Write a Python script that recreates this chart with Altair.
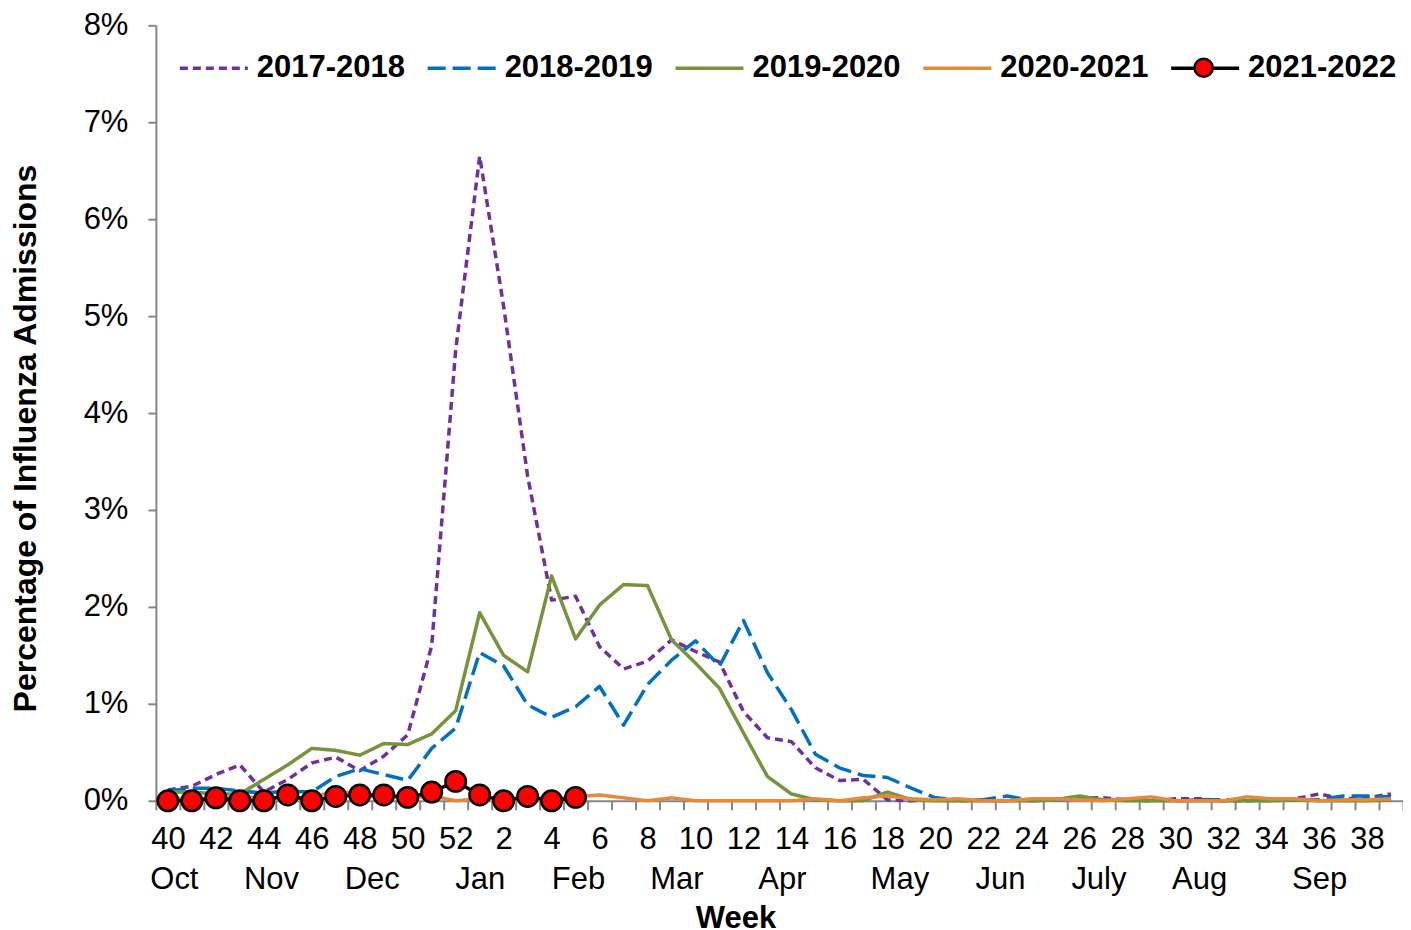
import json
import altair as alt
import pandas as pd

# ---------------- data ----------------
weeks = list(range(40, 53)) + list(range(1, 40))
series_names = ["2017-2018", "2018-2019", "2019-2020", "2020-2021", "2021-2022"]

s2017_2018 = [0.11, 0.15, 0.27, 0.37, 0.09, 0.22, 0.39, 0.45, 0.31, 0.46, 0.68, 1.60, 4.65,
              6.65, 5.10, 3.35, 2.07, 2.11, 1.59, 1.36, 1.44, 1.66, 1.54, 1.43, 0.92, 0.65,
              0.61, 0.34, 0.21, 0.22, 0.01, 0.00, 0.01, 0.00, 0.01, 0.00, 0.01, 0.02, 0.03,
              0.03, 0.01, 0.00, 0.02, 0.02, 0.00, 0.00, 0.01, 0.02, 0.07, 0.02, 0.03, 0.07]
s2018_2019 = [0.10, 0.13, 0.13, 0.10, 0.08, 0.10, 0.09, 0.25, 0.33, 0.27, 0.21, 0.54, 0.75,
              1.53, 1.39, 0.99, 0.86, 0.97, 1.18, 0.78, 1.20, 1.45, 1.65, 1.39, 1.86, 1.32,
              0.94, 0.48, 0.34, 0.26, 0.24, 0.13, 0.03, 0.01, 0.01, 0.05, 0.00, 0.01, 0.02,
              0.01, 0.01, 0.01, 0.00, 0.01, 0.01, 0.01, 0.00, 0.01, 0.01, 0.05, 0.05, 0.04]
s2019_2020 = [0.09, 0.09, 0.07, 0.07, 0.22, 0.37, 0.54, 0.52, 0.47, 0.59, 0.58, 0.69, 0.93,
              1.94, 1.50, 1.33, 2.32, 1.67, 2.02, 2.23, 2.22, 1.66, 1.42, 1.16, 0.70, 0.25,
              0.07, 0.01, 0.00, 0.00, 0.09, 0.01, 0.00, 0.00, 0.00, 0.00, 0.00, 0.01, 0.05,
              0.01, 0.00, 0.00, 0.00, 0.00, 0.00, 0.00, 0.00, 0.01, 0.00, 0.00, 0.00, 0.01]
s2020_2021 = [0.02, 0.02, 0.02, 0.04, 0.03, 0.03, 0.02, 0.12, 0.05, 0.04, 0.03, 0.05, 0.00,
              0.02, 0.00, 0.01, 0.02, 0.04, 0.06, 0.03, 0.00, 0.03, 0.00, 0.00, 0.00, 0.00,
              0.00, 0.02, 0.00, 0.03, 0.05, 0.02, 0.01, 0.02, 0.00, 0.00, 0.02, 0.02, 0.01,
              0.00, 0.02, 0.04, 0.00, 0.00, 0.00, 0.04, 0.02, 0.02, 0.00, 0.01, 0.01, 0.02]
s2021_2022 = [0.00, 0.00, 0.03, 0.00, 0.00, 0.06, 0.00, 0.045, 0.06, 0.06, 0.035, 0.09, 0.20,
              0.06, 0.00, 0.045, 0.00, 0.035]

months = ["Oct", "Nov", "Dec", "Jan", "Feb", "Mar", "Apr", "May", "Jun", "July", "Aug", "Sep"]
month_pos = [0.25, 4.3, 8.5, 13.0, 17.1, 21.2, 25.6, 30.5, 34.7, 38.8, 43.0, 48.0]

y_ticks = [0, 1, 2, 3, 4, 5, 6, 7, 8]

# ---------------- styles ----------------
colors = ["#7030A0", "#0070C0", "#77933C", "#E8883A", "#000000"]
dashes = [[8, 5], [18, 7], [1, 0], [1, 0], [1, 0]]
widths = [3.5, 3.5, 4, 4, 4.5]
FONT = "Liberation Sans"
GRAY = "#868686"
W, H = 1248, 776

rows = []
for name, vals in zip(series_names, [s2017_2018, s2018_2019, s2019_2020, s2020_2021, s2021_2022]):
    for i, v in enumerate(vals):
        rows.append({"series": name, "idx": i, "week": weeks[i], "pct": v})
df = pd.DataFrame(rows)
red_df = df[df["series"] == "2021-2022"].copy()
red_df["marker"] = red_df["series"]
mdf = pd.DataFrame({"month": months, "mpos": month_pos})

xscale = alt.Scale(domain=[-0.5, len(weeks) - 0.5], nice=False, zero=False)
yscale = alt.Scale(domain=[0, 8], nice=False, zero=True)

boundaries = [k - 0.5 for k in range(len(weeks) + 1)]

tick_axis = alt.Axis(orient="bottom", values=boundaries, labels=False, ticks=True, tickSize=9,
                     tickColor=GRAY, tickWidth=2, domain=True, domainColor=GRAY,
                     domainWidth=2, grid=False, title=None)
week_axis = alt.Axis(orient="bottom", values=list(range(0, len(weeks), 2)),
                     labelExpr=f"{json.dumps(weeks)}[datum.value]",
                     labelOverlap=False, labelFont=FONT, labelFontSize=31, labelColor="black",
                     labelPadding=24, ticks=False, tickSize=0, domain=False, grid=False,
                     title=None, labelFlush=False, labelBound=False)
month_axis = alt.Axis(orient="bottom", values=month_pos,
                      labelExpr=f"{json.dumps(months)}[indexof({json.dumps(month_pos)}, datum.value)]",
                      labelOverlap=False, labelFont=FONT, labelFontSize=31, labelColor="black",
                      labelPadding=64, ticks=False, tickSize=0, domain=False, grid=False,
                      labelFlush=False, labelBound=False,
                      title="Week", titleFont=FONT, titleFontSize=31, titleFontWeight="bold",
                      titleColor="black", titleX=580, titleY=103, titleBaseline="top",
                      titleAnchor="start", titleAlign="center")

y_axis = alt.Axis(values=y_ticks, labelExpr="datum.value + '%'", labelFont=FONT,
                  labelFontSize=31, labelColor="black", labelPadding=20, tickSize=8,
                  tickColor=GRAY, tickWidth=2, domainColor=GRAY, domainWidth=2, grid=False,
                  title="Percentage of Influenza Admissions", titleFont=FONT, titleFontSize=32,
                  titleFontWeight="bold", titleColor="black", titleX=-130, titleY=413,
                  titleBaseline="middle", titleAlign="center", titleAngle=270)

legend = alt.Legend(orient="none", legendX=22, legendY=7, direction="horizontal", columns=5,
                    title=None, symbolType="stroke", symbolSize=68 * 68, symbolStrokeWidth=3.5,
                    labelFont=FONT, labelFontSize=31, labelFontWeight="bold",
                    labelColor="black", labelOffset=7, columnPadding=15, padding=0,
                    labelLimit=400, symbolOpacity=1)

marker_legend = alt.Legend(orient="none", legendX=1033, legendY=27, title=None,
                           symbolType="circle", symbolSize=330, symbolStrokeColor="#000000",
                           symbolStrokeWidth=2.5, symbolFillColor="#FF0000", symbolOpacity=1,
                           labelExpr="''", labelFontSize=31, padding=0)

lines = alt.Chart(df).mark_line(strokeJoin="round").encode(
    x=alt.X("idx:Q", scale=xscale, axis=tick_axis),
    y=alt.Y("pct:Q", scale=yscale, axis=y_axis),
    color=alt.Color("series:N", scale=alt.Scale(domain=series_names, range=colors),
                    legend=legend),
    strokeDash=alt.StrokeDash("series:N", scale=alt.Scale(domain=series_names, range=dashes),
                              legend=legend),
    strokeWidth=alt.StrokeWidth("series:N", scale=alt.Scale(domain=series_names, range=widths),
                                legend=None),
    detail="series:N",
)

points = alt.Chart(red_df).mark_circle(size=420, stroke="#000000", strokeWidth=2.5,
                                       opacity=1).encode(
    x=alt.X("idx:Q", scale=xscale, axis=None),
    y=alt.Y("pct:Q", scale=yscale),
    fill=alt.Fill("marker:N", scale=alt.Scale(domain=["2021-2022"], range=["#FF0000"]),
                  legend=marker_legend),
)

week_labels = alt.Chart(df).mark_point(opacity=0).encode(
    x=alt.X("idx:Q", scale=xscale, axis=week_axis),
)

month_labels = alt.Chart(mdf).mark_point(opacity=0).encode(
    x=alt.X("mpos:Q", scale=xscale, axis=month_axis),
)

chart = alt.layer(lines, points, week_labels, month_labels).resolve_axis(
    x="independent"
).properties(
    width=W, height=H,
    autosize=alt.AutoSizeParams(type="none"),
    padding={"left": 148, "top": 17, "right": 0, "bottom": 132},
    background="white",
).configure_view(stroke=None)

chart.save("out.html", embed_options={"renderer": "svg", "actions": False})
